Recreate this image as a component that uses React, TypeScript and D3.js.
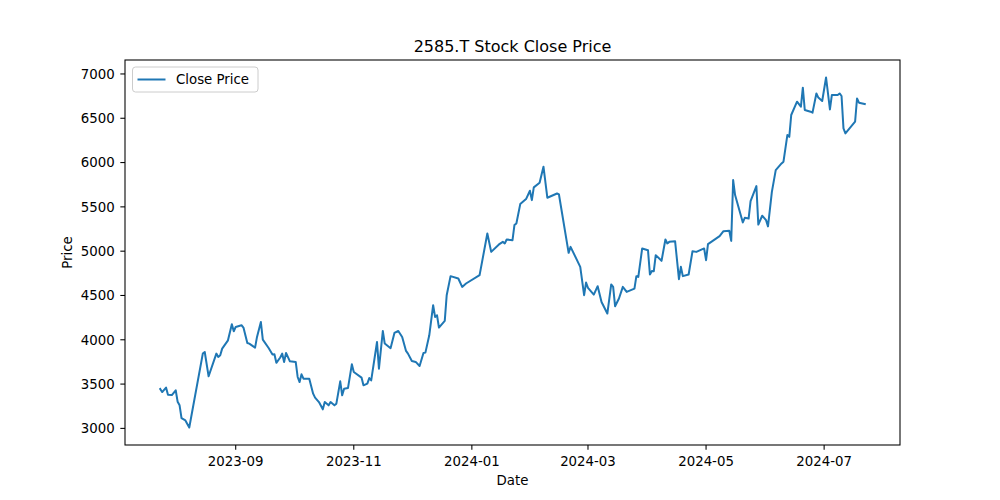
import React from "react";
import * as d3 from "d3";

const dates: string[] = [
  "2023-07-24","2023-07-25","2023-07-27","2023-07-28","2023-07-30","2023-08-01","2023-08-02","2023-08-03","2023-08-04","2023-08-06",
  "2023-08-08","2023-08-09","2023-08-15","2023-08-16","2023-08-18","2023-08-22","2023-08-23","2023-08-24","2023-08-25","2023-08-28",
  "2023-08-30","2023-08-31","2023-09-01","2023-09-04","2023-09-05","2023-09-07","2023-09-08","2023-09-11","2023-09-12","2023-09-14",
  "2023-09-15","2023-09-18","2023-09-20","2023-09-21","2023-09-22","2023-09-24","2023-09-25","2023-09-26","2023-09-27","2023-09-29",
  "2023-10-02","2023-10-03","2023-10-04","2023-10-05","2023-10-06","2023-10-09","2023-10-11","2023-10-12","2023-10-14","2023-10-16",
  "2023-10-17","2023-10-19","2023-10-20","2023-10-22","2023-10-23","2023-10-25","2023-10-26","2023-10-27","2023-10-29","2023-10-31",
  "2023-11-01","2023-11-05","2023-11-06","2023-11-08","2023-11-09","2023-11-10","2023-11-13","2023-11-14","2023-11-16","2023-11-17",
  "2023-11-20","2023-11-22","2023-11-24","2023-11-26","2023-11-28","2023-11-29","2023-12-01","2023-12-03","2023-12-05","2023-12-07",
  "2023-12-08","2023-12-10","2023-12-12","2023-12-13","2023-12-14","2023-12-15","2023-12-18","2023-12-19","2023-12-21","2023-12-25",
  "2023-12-27","2023-12-29","2024-01-05","2024-01-09","2024-01-11","2024-01-15","2024-01-17","2024-01-18","2024-01-19","2024-01-22",
  "2024-01-23","2024-01-24","2024-01-26","2024-01-29","2024-01-31","2024-02-01","2024-02-02","2024-02-05","2024-02-07","2024-02-09",
  "2024-02-14","2024-02-15","2024-02-20","2024-02-21","2024-02-26","2024-02-28","2024-02-29","2024-03-01","2024-03-04","2024-03-06",
  "2024-03-08","2024-03-11","2024-03-13","2024-03-14","2024-03-15","2024-03-17","2024-03-19","2024-03-21","2024-03-25","2024-03-26",
  "2024-03-27","2024-03-29","2024-04-01","2024-04-02","2024-04-03","2024-04-04","2024-04-05","2024-04-08","2024-04-10","2024-04-11",
  "2024-04-12","2024-04-15","2024-04-17","2024-04-18","2024-04-19","2024-04-22","2024-04-24","2024-04-26","2024-04-30","2024-05-01",
  "2024-05-02","2024-05-08","2024-05-10","2024-05-13","2024-05-14","2024-05-15","2024-05-16","2024-05-20","2024-05-21","2024-05-23",
  "2024-05-24","2024-05-27","2024-05-28","2024-05-30","2024-06-01","2024-06-02","2024-06-04","2024-06-06","2024-06-09","2024-06-10",
  "2024-06-12","2024-06-13","2024-06-14","2024-06-17","2024-06-19","2024-06-20","2024-06-21","2024-06-24","2024-06-25","2024-06-27",
  "2024-06-28","2024-06-30","2024-07-02","2024-07-04","2024-07-05","2024-07-08","2024-07-09","2024-07-10","2024-07-11","2024-07-12",
  "2024-07-17","2024-07-18","2024-07-19","2024-07-22"
];

const closes: number[] = [
  3445,3410,3460,3380,3376,3430,3300,3260,3116,3090,
  3010,3128,3844,3862,3588,3844,3806,3825,3900,3994,
  4175,4096,4145,4164,4138,3964,3957,3912,4032,4200,
  4002,3907,3833,3836,3740,3800,3844,3750,3852,3757,
  3750,3580,3523,3610,3561,3561,3392,3347,3297,3215,
  3297,3260,3297,3260,3279,3531,3373,3448,3455,3723,
  3636,3573,3486,3505,3568,3542,3975,3674,4099,3957,
  3905,4077,4099,4032,3874,3844,3761,3750,3704,3851,
  3855,4051,4390,4258,4277,4138,4213,4503,4718,4692,
  4597,4635,4729,5200,4992,5076,5105,5087,5132,5124,
  5294,5313,5531,5588,5682,5576,5720,5772,5953,5603,
  5651,5640,4981,5049,4823,4503,4646,4585,4510,4605,
  4427,4296,4624,4597,4379,4466,4597,4540,4578,4718,
  4710,5031,5011,4737,4777,4774,4955,4891,5132,5087,
  5105,5113,4684,4823,4718,4737,5000,4992,5031,4898,
  5079,5169,5226,5230,5116,5802,5633,5324,5376,5369,
  5565,5734,5300,5400,5350,5280,5670,5915,5990,6010,
  6310,6290,6537,6687,6631,6845,6593,6574,6563,6780,
  6733,6695,6960,6600,6763,6763,6780,6751,6386,6329,
  6461,6723,6676,6660
];

const yTicks: number[] = [3000, 3500, 4000, 4500, 5000, 5500, 6000, 6500, 7000];
const xTickLabels: string[] = ["2023-09", "2023-11", "2024-01", "2024-03", "2024-05", "2024-07"];

const W = 1000, H = 500;
const L = 125, R = 900, T = 60, B = 445;
const FONT = "'DejaVu Sans', sans-serif";

export default function App() {
  const parse = d3.timeParse("%Y-%m-%d");
  const data = dates.map((d, i) => ({ date: parse(d) as Date, value: closes[i] }));
  const [x0, x1] = d3.extent(data, d => d.date) as [Date, Date];
  const span = x1.getTime() - x0.getTime();
  const x = d3.scaleTime()
    .domain([new Date(x0.getTime() - span * 0.05), new Date(x1.getTime() + span * 0.05)])
    .range([L, R]);
  const [y0, y1] = d3.extent(data, d => d.value) as [number, number];
  const ys = y1 - y0;
  const y = d3.scaleLinear().domain([y0 - ys * 0.05, y1 + ys * 0.05]).range([B, T]);
  const line = d3.line<{ date: Date; value: number }>().x(d => x(d.date)).y(d => y(d.value));
  const xTicks = xTickLabels.map(s => d3.timeParse("%Y-%m")(s) as Date);
  const tickLen = 4.67;

  return (
    <div style={{ position: "fixed", left: 0, top: 0 }}>
      <svg width={W} height={H} style={{ display: "block", background: "#fff" }} fontFamily={FONT}>
        <rect x={0} y={0} width={W} height={H} fill="#fff" />
        <text x={(L + R) / 2} y={52} textAnchor="middle" fontSize={16} fill="#000">2585.T Stock Close Price</text>
        <path d={line(data) || ""} fill="none" stroke="#1f77b4" strokeWidth={2} strokeLinejoin="round" strokeLinecap="square" />
        <rect x={L} y={T} width={R - L} height={B - T} fill="none" stroke="#000" strokeWidth={1.07} />
        {xTicks.map((t, i) => (
          <g key={i}>
            <line x1={x(t)} x2={x(t)} y1={B} y2={B + tickLen} stroke="#000" strokeWidth={1.07} />
            <text x={x(t)} y={466} textAnchor="middle" fontSize={13.33} fill="#000">{xTickLabels[i]}</text>
          </g>
        ))}
        {yTicks.map((v, i) => (
          <g key={i}>
            <line x1={L - tickLen} x2={L} y1={y(v)} y2={y(v)} stroke="#000" strokeWidth={1.07} />
            <text x={L - 2 * tickLen - 1} y={y(v)} dy="0.36em" textAnchor="end" fontSize={13.33} fill="#000">{v}</text>
          </g>
        ))}
        <text x={(L + R) / 2} y={485} textAnchor="middle" fontSize={13.33} fill="#000">Date</text>
        <text transform={`translate(72, ${(T + B) / 2}) rotate(-90)`} textAnchor="middle" fontSize={13.33} fill="#000">Price</text>
        <g>
          <rect x={132.5} y={67} width={125.5} height={25} rx={3} ry={3} fill="#fff" fillOpacity={0.8} stroke="#cccccc" strokeWidth={1} />
          <line x1={137.5} x2={165.5} y1={79.5} y2={79.5} stroke="#1f77b4" strokeWidth={2} />
          <text x={176} y={84} fontSize={13.33} fill="#000">Close Price</text>
        </g>
      </svg>
    </div>
  );
}
